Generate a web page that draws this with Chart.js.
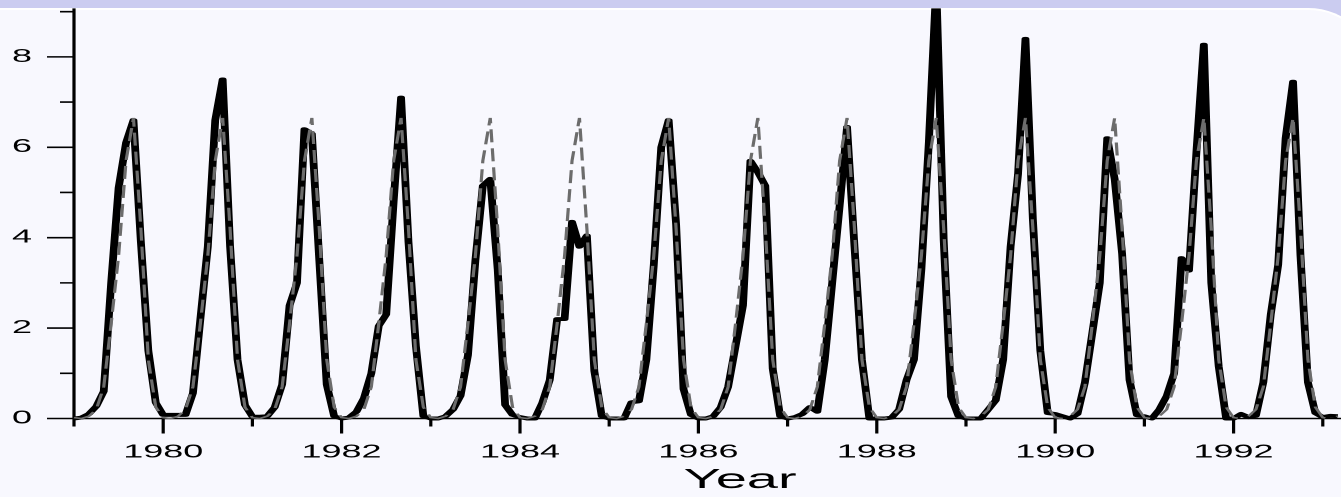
<!DOCTYPE html>
<html>
<head>
<meta charset="utf-8">
<script src="https://cdn.jsdelivr.net/npm/chart.js@4.4.1/dist/chart.umd.min.js"></script>
<style>
    html, body {
        margin: 0;
        padding: 0;
        width: 1341px;
        height: 497px;
        overflow: hidden;
        background: #cbccf0;
    }
    .panel {
        position: absolute;
        left: -10px;
        top: 8px;
        width: 1386px;
        height: 540px;
        background: #f8f8fe;
        border-top: 2px solid #fff;
        border-right: 2px solid #fff;
        border-top-right-radius: 70px;
    }
    /* the source picture is a horizontally stretched bitmap */
    .stretch {
        position: absolute;
        left: 0;
        top: 0;
        width: 705px;
        height: 497px;
        transform: scaleX(2);
        transform-origin: 0 0;
    }
</style>
</head>
<body>
<div class="panel"></div>
<div class="stretch"><canvas id="seasonChart"></canvas></div>

<script>
// Monthly values, Jan..Dec (solid black line)
const obs1979 = [0.0, 0.02, 0.1, 0.27, 0.6, 3.0, 5.1, 6.1, 6.6, 3.9, 1.5, 0.35];
const obs1980 = [0.08, 0.08, 0.08, 0.08, 0.56, 2.2, 3.8, 6.6, 7.5, 3.8, 1.3, 0.3];
const obs1981 = [0.04, 0.04, 0.05, 0.25, 0.75, 2.5, 3.0, 6.4, 6.3, 3.5, 0.75, 0.05];
const obs1982 = [0.0, 0.02, 0.15, 0.45, 1.0, 2.05, 2.3, 4.8, 7.1, 3.9, 1.6, 0.05];
const obs1983 = [0.0, 0.0, 0.05, 0.2, 0.5, 1.4, 3.5, 5.15, 5.3, 3.3, 0.3, 0.08];
const obs1984 = [0.03, 0.0, 0.0, 0.35, 0.85, 2.2, 2.2, 4.35, 3.8, 4.05, 1.05, 0.05];
const obs1985 = [0.0, 0.0, 0.0, 0.36, 0.38, 1.3, 3.4, 6.0, 6.6, 4.3, 0.65, 0.08];
const obs1986 = [0.0, 0.0, 0.05, 0.25, 0.7, 1.6, 2.5, 5.7, 5.45, 5.15, 1.1, 0.05];
const obs1987 = [0.0, 0.03, 0.1, 0.25, 0.15, 1.3, 3.0, 4.7, 6.45, 3.8, 1.3, 0.0];
const obs1988 = [0.0, 0.0, 0.02, 0.2, 0.85, 1.3, 3.3, 6.1, 9.6, 3.95, 0.48, 0.05];
const obs1989 = [0.0, 0.0, 0.0, 0.2, 0.4, 1.3, 3.8, 5.4, 8.4, 4.4, 1.5, 0.12];
const obs1990 = [0.1, 0.05, 0.0, 0.1, 0.8, 1.9, 3.0, 6.2, 5.3, 3.65, 0.85, 0.07];
const obs1991 = [0.05, 0.0, 0.2, 0.5, 1.0, 3.55, 3.27, 5.9, 8.27, 3.0, 1.15, 0.0];
const obs1992 = [0.0, 0.1, 0.03, 0.06, 0.8, 2.3, 3.4, 6.2, 7.45, 3.6, 0.8, 0.12];
const obs1993 = [0.03, 0.06, 0.05];

// Dashed grey line: the same seasonal cycle every year
const seasonalFit = [0.02, 0.0, 0.05, 0.2, 0.7, 2.1, 3.6, 5.7, 6.65, 4.2, 1.3, 0.25];

const years = [1979, 1980, 1981, 1982, 1983, 1984, 1985, 1986, 1987, 1988, 1989, 1990, 1991, 1992, 1993];
const observedByYear = [obs1979, obs1980, obs1981, obs1982, obs1983, obs1984, obs1985,
    obs1986, obs1987, obs1988, obs1989, obs1990, obs1991, obs1992, obs1993];

const yTickValues = [0, 2, 4, 6, 8];
const xTickYears = [1980, 1982, 1984, 1986, 1988, 1990, 1992];

// Build {x, y} points, x = year + month/12
const observedPoints = [];
const fittedPoints = [];
years.forEach((yr, i) => {
    observedByYear[i].forEach((v, m) => {
        observedPoints.push({ x: yr + m / 12, y: v });
        fittedPoints.push({ x: yr + m / 12, y: seasonalFit[m] });
    });
});

const fontFamily = "'Liberation Sans', Arial, sans-serif";

// Axis lines with long (labelled) and short (unlabelled) ticks
const axisLines = {
    id: 'axisLines',
    beforeDatasetsDraw(chart) {
        const { ctx, chartArea, scales: { x, y } } = chart;
        const y0 = y.getPixelForValue(0);
        ctx.save();
        ctx.strokeStyle = '#000';
        ctx.lineWidth = 1.6;
        ctx.beginPath();
        ctx.moveTo(chartArea.left, chartArea.top - 1);
        ctx.lineTo(chartArea.left, y0);
        ctx.moveTo(chartArea.left - 13.5, y0);
        ctx.lineTo(chartArea.right, y0);
        y.ticks.forEach(t => {
            const py = y.getPixelForValue(t.value);
            const len = yTickValues.includes(t.value) ? 13.5 : 7;
            ctx.moveTo(chartArea.left - len, py);
            ctx.lineTo(chartArea.left, py);
        });
        x.ticks.forEach(t => {
            const px = x.getPixelForValue(t.value);
            const len = xTickYears.includes(t.value) ? 15 : 8;
            ctx.moveTo(px, y0);
            ctx.lineTo(px, y0 + len);
        });
        ctx.stroke();
        ctx.restore();
    }
};

const ctx = document.getElementById('seasonChart').getContext('2d');
const seasonChart = new Chart(ctx, {
    type: 'line',
    data: {
        datasets: [{
            label: 'Fitted',
            data: fittedPoints,
            borderColor: '#6c6c6c',
            borderWidth: 1.6,
            borderDash: [13, 6],
            pointRadius: 0,
            tension: 0,
            clip: { left: 2, top: 1, right: 0, bottom: 6 },
            order: 0
        }, {
            label: 'Observed',
            data: observedPoints,
            borderColor: '#000',
            borderWidth: 3.9,
            borderJoinStyle: 'round',
            pointRadius: 0,
            tension: 0,
            clip: { left: 2, top: 1, right: 0, bottom: 6 },
            order: 1
        }]
    },
    options: {
        responsive: true,
        maintainAspectRatio: false,
        animation: false,
        devicePixelRatio: 2,
        layout: {
            padding: { top: 9.4, left: 0, right: 0, bottom: 0 }
        },
        plugins: {
            legend: { display: false },
            tooltip: { enabled: false }
        },
        scales: {
            x: {
                type: 'linear',
                min: 1979,
                max: 1993.934,
                grid: { display: false, drawTicks: false },
                border: { display: false },
                ticks: {
                    stepSize: 1,
                    includeBounds: false,
                    autoSkip: false,
                    maxRotation: 0,
                    padding: 23,
                    color: '#000',
                    font: { family: fontFamily, size: 18 },
                    callback: v => xTickYears.includes(v) ? String(v) : ''
                },
                title: {
                    display: true,
                    text: 'Year',
                    color: '#000',
                    font: { family: fontFamily, size: 28 },
                    padding: { top: 0, bottom: 0 }
                },
                afterFit(scale) {
                    scale.height = 78.5;
                    scale.paddingLeft = 0;
                    scale.paddingRight = 0;
                }
            },
            y: {
                min: 0,
                max: 9.05,
                grid: { display: false, drawTicks: false },
                border: { display: false },
                ticks: {
                    stepSize: 1,
                    includeBounds: false,
                    padding: 21,
                    color: '#000',
                    font: { family: fontFamily, size: 18 },
                    callback: v => yTickValues.includes(v) ? String(v) : ''
                },
                afterFit(scale) {
                    scale.width = 37;
                    scale.paddingTop = 0;
                    scale.paddingBottom = 0;
                }
            }
        }
    },
    plugins: [axisLines]
});
</script>
</body>
</html>
